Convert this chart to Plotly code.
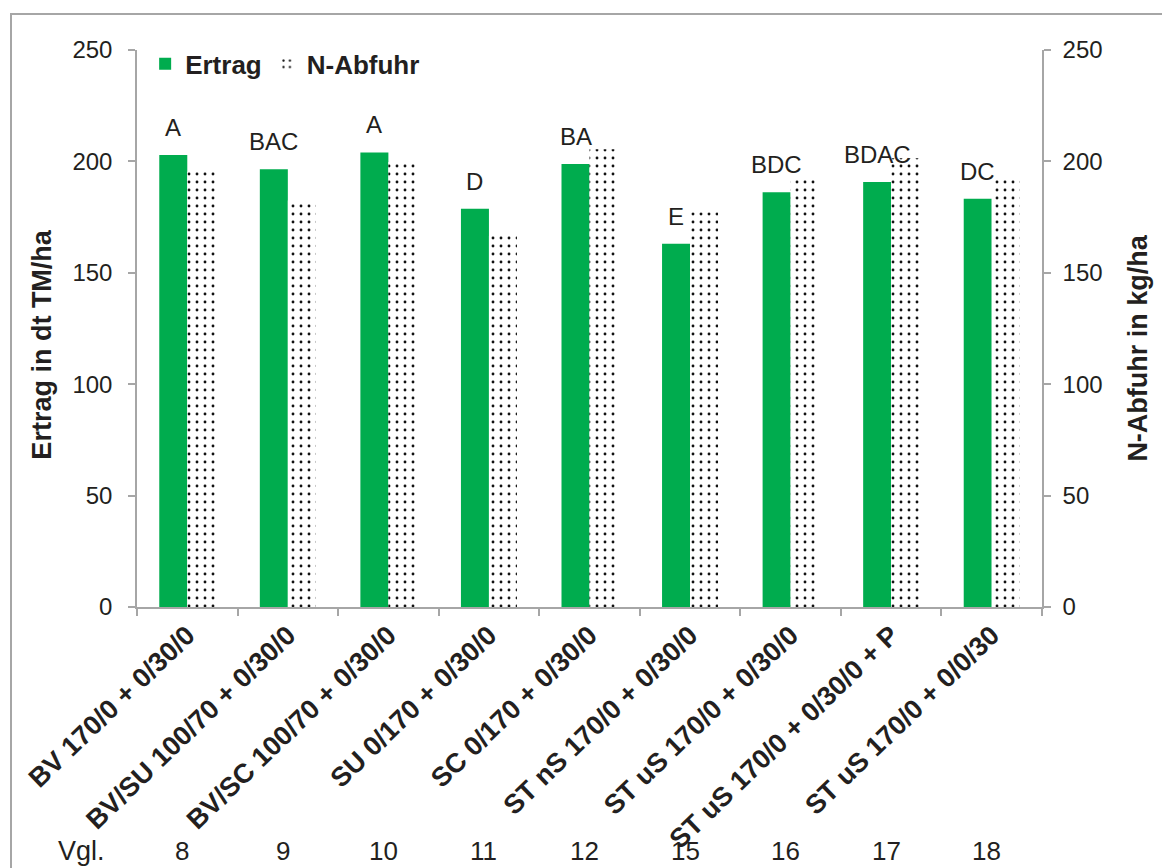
import plotly.graph_objects as go

# ---------------- data ----------------
categories = [
    "BV 170/0 + 0/30/0",
    "BV/SU 100/70 + 0/30/0",
    "BV/SC 100/70 + 0/30/0",
    "SU 0/170 + 0/30/0",
    "SC 0/170 + 0/30/0",
    "ST nS 170/0 + 0/30/0",
    "ST uS 170/0 + 0/30/0",
    "ST uS 170/0 + 0/30/0 + P",
    "ST uS 170/0 + 0/0/30",
]
vgl_numbers = ["8", "9", "10", "11", "12", "15", "16", "17", "18"]
ertrag = [202.9, 196.5, 204.0, 178.7, 198.8, 163.0, 186.2, 190.7, 183.2]
n_abfuhr = [195.4, 182.4, 199.7, 166.6, 205.5, 177.2, 192.2, 201.4, 191.7]
letters = ["A", "BAC", "A", "D", "BA", "E", "BDC", "BDAC", "DC"]
y_ticks = [0, 50, 100, 150, 200, 250]

# ---------------- style ----------------
FONT = "Liberation Sans, Arial, sans-serif"
TXT = "#231F20"
AX = "#A6A6A6"
GREEN = "#00AC4E"

fig = go.Figure()
fig.add_bar(
    x=categories, y=ertrag, name="Ertrag", yaxis="y", offsetgroup="1",
    marker=dict(color=GREEN, line=dict(width=0)),
)
fig.add_bar(
    x=categories, y=n_abfuhr, name="N-Abfuhr", yaxis="y2", offsetgroup="2",
    marker=dict(color="white", line=dict(width=0),
                pattern=dict(shape=".", fgcolor="#111111", bgcolor="white",
                             size=8, solidity=0.1, fillmode="replace")),
)

axis_common = dict(
    range=[0, 250], tickvals=y_ticks, showgrid=False, zeroline=False,
    showline=True, linecolor=AX, linewidth=1.5,
    ticks="outside", ticklen=7, tickcolor=AX, tickwidth=1.5,
    tickfont=dict(family=FONT, size=24, color=TXT),
)

fig.update_layout(
    width=1162, height=868,
    margin=dict(l=137, r=120, t=50, b=261),
    paper_bgcolor="white", plot_bgcolor="white",
    barmode="group", bargap=0.443, bargroupgap=0,
    font=dict(family=FONT, color=TXT),
    xaxis=dict(
        type="category", showline=True, linecolor=AX, linewidth=1.5,
        ticks="outside", tickson="boundaries", ticklen=7, tickcolor=AX, tickwidth=1.5,
        tickangle=-44, showgrid=False,
        tickfont=dict(family=FONT, size=27, color=TXT, weight="bold"),
    ),
    yaxis=dict(**axis_common, ticklabelstandoff=11),
    yaxis2=dict(**axis_common, overlaying="y", side="right", ticklabelstandoff=7),
    legend=dict(
        orientation="h", x=0.009, y=0.975, xanchor="left", yanchor="middle",
        font=dict(family=FONT, size=26, color=TXT, weight="bold"),
        bgcolor="rgba(0,0,0,0)", itemwidth=30,
    ),
    showlegend=True,
)

# frame around chart
fig.add_shape(type="rect", xref="paper", yref="paper",
              x0=(11 - 137) / 905, x1=1.4, y0=-0.7, y1=(607.7 - 14) / 557.7,
              line=dict(color=AX, width=2), fillcolor="rgba(0,0,0,0)", layer="below")

# significance letters above the Ertrag bars
for c, v, t in zip(categories, ertrag, letters):
    fig.add_annotation(x=c, y=v, xref="x", yref="y", text=t, showarrow=False,
                       xanchor="center", yanchor="bottom", xshift=-14, yshift=12,
                       font=dict(family=FONT, size=24, color=TXT))

# Vgl. row
VGL_Y = (607.7 - 852) / 557.7
fig.add_annotation(x=(81 - 137) / 905, y=VGL_Y, xref="paper", yref="paper",
                   text="Vgl.", showarrow=False, xanchor="center", yanchor="middle",
                   font=dict(family=FONT, size=27, color=TXT))
for c, n in zip(categories, vgl_numbers):
    fig.add_annotation(x=c, y=VGL_Y, xref="x", yref="paper",
                       text=n, showarrow=False, xanchor="center", yanchor="middle",
                       xshift=-5, font=dict(family=FONT, size=26, color=TXT))

# axis titles
fig.add_annotation(x=(42 - 137) / 905, y=(607.7 - 345) / 557.7, xref="paper", yref="paper",
                   text="Ertrag in dt TM/ha", textangle=-90, showarrow=False,
                   xanchor="center", yanchor="middle",
                   font=dict(family=FONT, size=27, color=TXT, weight="bold"))
fig.add_annotation(x=(1138 - 137) / 905, y=(607.7 - 349) / 557.7, xref="paper", yref="paper",
                   text="N-Abfuhr in kg/ha", textangle=-90, showarrow=False,
                   xanchor="center", yanchor="middle",
                   font=dict(family=FONT, size=27, color=TXT, weight="bold"))

fig.write_html(
    "out.html",
    config={"displayModeBar": False},
    post_script="document.body.style.margin='0';document.body.style.padding='0';"
                "document.body.style.overflow='hidden';",
)
